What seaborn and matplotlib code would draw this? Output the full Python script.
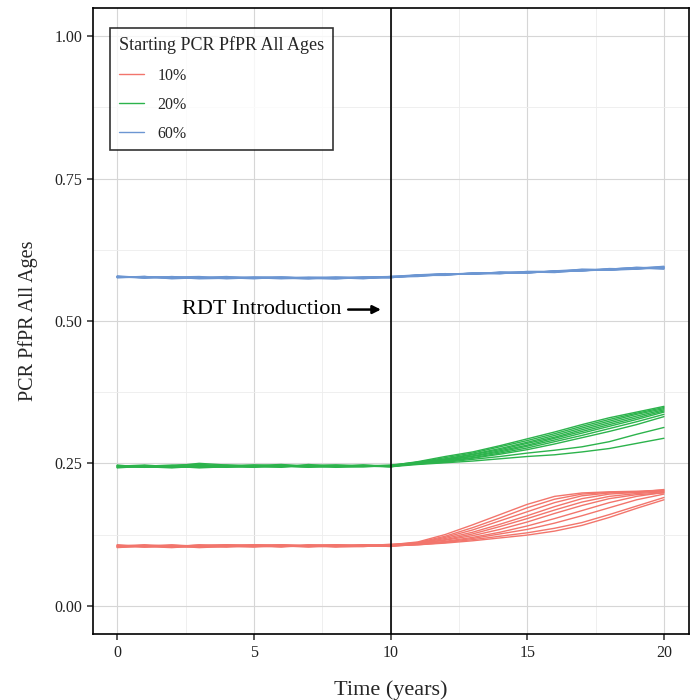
import matplotlib
matplotlib.use("Agg")
import matplotlib.pyplot as plt
from matplotlib.ticker import MultipleLocator
import seaborn as sns
import pandas as pd

# time points (years)
years = list(range(0, 21))

# starting PCR PfPR 10% - one list per simulation run
red_runs = [
    [0.104, 0.106, 0.103, 0.107, 0.105, 0.104, 0.106, 0.105, 0.107, 0.106, 0.107, 0.112, 0.125, 0.142, 0.160, 0.178, 0.192, 0.198, 0.200, 0.201, 0.203],
    [0.106, 0.104, 0.105, 0.106, 0.107, 0.105, 0.104, 0.106, 0.105, 0.107, 0.106, 0.111, 0.122, 0.137, 0.154, 0.172, 0.187, 0.196, 0.199, 0.200, 0.202],
    [0.103, 0.105, 0.107, 0.104, 0.106, 0.107, 0.105, 0.104, 0.106, 0.105, 0.108, 0.110, 0.120, 0.133, 0.149, 0.165, 0.181, 0.193, 0.198, 0.199, 0.204],
    [0.105, 0.107, 0.104, 0.105, 0.103, 0.106, 0.107, 0.105, 0.104, 0.106, 0.105, 0.110, 0.118, 0.129, 0.143, 0.158, 0.174, 0.188, 0.196, 0.199, 0.201],
    [0.107, 0.103, 0.106, 0.104, 0.105, 0.107, 0.106, 0.104, 0.105, 0.104, 0.106, 0.109, 0.116, 0.126, 0.139, 0.153, 0.168, 0.182, 0.192, 0.197, 0.200],
    [0.102, 0.105, 0.104, 0.106, 0.104, 0.103, 0.105, 0.107, 0.106, 0.105, 0.107, 0.109, 0.115, 0.123, 0.134, 0.147, 0.162, 0.176, 0.188, 0.195, 0.198],
    [0.105, 0.104, 0.102, 0.105, 0.107, 0.105, 0.103, 0.106, 0.104, 0.107, 0.105, 0.108, 0.113, 0.120, 0.129, 0.140, 0.153, 0.167, 0.181, 0.192, 0.199],
    [0.104, 0.103, 0.105, 0.103, 0.104, 0.106, 0.105, 0.103, 0.105, 0.106, 0.104, 0.108, 0.112, 0.118, 0.126, 0.134, 0.145, 0.158, 0.172, 0.186, 0.196],
    [0.106, 0.105, 0.103, 0.104, 0.106, 0.104, 0.107, 0.105, 0.103, 0.104, 0.106, 0.107, 0.111, 0.116, 0.122, 0.128, 0.136, 0.146, 0.160, 0.175, 0.190],
    [0.103, 0.106, 0.105, 0.102, 0.104, 0.105, 0.104, 0.106, 0.107, 0.105, 0.105, 0.107, 0.110, 0.114, 0.119, 0.124, 0.131, 0.141, 0.155, 0.171, 0.186],
]

# starting PCR PfPR 20%
green_runs = [
    [0.244, 0.246, 0.243, 0.247, 0.245, 0.244, 0.246, 0.245, 0.247, 0.246, 0.246, 0.253, 0.262, 0.270, 0.281, 0.293, 0.305, 0.318, 0.330, 0.340, 0.350],
    [0.246, 0.244, 0.245, 0.250, 0.247, 0.245, 0.244, 0.246, 0.245, 0.247, 0.245, 0.252, 0.260, 0.268, 0.279, 0.290, 0.302, 0.315, 0.327, 0.338, 0.348],
    [0.243, 0.245, 0.247, 0.248, 0.246, 0.247, 0.245, 0.244, 0.246, 0.245, 0.247, 0.252, 0.258, 0.266, 0.276, 0.287, 0.299, 0.312, 0.324, 0.336, 0.346],
    [0.245, 0.247, 0.244, 0.245, 0.243, 0.246, 0.248, 0.245, 0.244, 0.246, 0.244, 0.251, 0.257, 0.265, 0.274, 0.285, 0.296, 0.309, 0.321, 0.333, 0.344],
    [0.247, 0.243, 0.246, 0.244, 0.245, 0.247, 0.246, 0.244, 0.245, 0.244, 0.246, 0.251, 0.256, 0.263, 0.272, 0.282, 0.294, 0.306, 0.318, 0.330, 0.342],
    [0.242, 0.245, 0.244, 0.246, 0.244, 0.243, 0.245, 0.247, 0.246, 0.245, 0.245, 0.250, 0.255, 0.262, 0.270, 0.280, 0.291, 0.303, 0.315, 0.327, 0.340],
    [0.245, 0.244, 0.242, 0.245, 0.247, 0.245, 0.243, 0.248, 0.244, 0.247, 0.244, 0.250, 0.254, 0.260, 0.268, 0.277, 0.288, 0.299, 0.311, 0.323, 0.336],
    [0.244, 0.243, 0.245, 0.243, 0.244, 0.246, 0.245, 0.243, 0.245, 0.246, 0.245, 0.249, 0.253, 0.259, 0.266, 0.274, 0.284, 0.295, 0.306, 0.318, 0.332],
    [0.246, 0.245, 0.243, 0.244, 0.246, 0.244, 0.247, 0.245, 0.243, 0.244, 0.246, 0.249, 0.252, 0.257, 0.262, 0.268, 0.273, 0.279, 0.288, 0.301, 0.313],
    [0.243, 0.246, 0.245, 0.242, 0.244, 0.245, 0.244, 0.246, 0.247, 0.245, 0.244, 0.248, 0.251, 0.254, 0.258, 0.262, 0.265, 0.270, 0.276, 0.285, 0.294],
]

# starting PCR PfPR 60%
blue_runs = [
    [0.578, 0.577, 0.576, 0.575, 0.576, 0.575, 0.576, 0.575, 0.576, 0.576, 0.577, 0.580, 0.582, 0.583, 0.584, 0.585, 0.587, 0.589, 0.590, 0.592, 0.594],
    [0.577, 0.578, 0.575, 0.576, 0.577, 0.576, 0.574, 0.576, 0.575, 0.577, 0.578, 0.579, 0.581, 0.584, 0.583, 0.586, 0.586, 0.588, 0.591, 0.593, 0.592],
    [0.579, 0.576, 0.577, 0.574, 0.575, 0.577, 0.576, 0.574, 0.577, 0.575, 0.576, 0.581, 0.583, 0.582, 0.585, 0.584, 0.588, 0.590, 0.589, 0.591, 0.595],
    [0.576, 0.578, 0.576, 0.577, 0.574, 0.576, 0.577, 0.575, 0.574, 0.576, 0.577, 0.579, 0.582, 0.583, 0.585, 0.586, 0.585, 0.589, 0.591, 0.594, 0.593],
    [0.578, 0.575, 0.578, 0.575, 0.577, 0.575, 0.575, 0.577, 0.576, 0.574, 0.578, 0.580, 0.580, 0.584, 0.584, 0.585, 0.587, 0.588, 0.590, 0.592, 0.596],
    [0.577, 0.577, 0.575, 0.576, 0.576, 0.574, 0.577, 0.576, 0.575, 0.576, 0.576, 0.580, 0.583, 0.582, 0.586, 0.585, 0.586, 0.590, 0.590, 0.593, 0.591],
    [0.578, 0.576, 0.577, 0.578, 0.575, 0.576, 0.575, 0.574, 0.576, 0.577, 0.577, 0.578, 0.582, 0.584, 0.583, 0.587, 0.587, 0.588, 0.592, 0.591, 0.594],
    [0.576, 0.577, 0.576, 0.575, 0.576, 0.577, 0.576, 0.575, 0.575, 0.575, 0.578, 0.581, 0.581, 0.583, 0.585, 0.584, 0.588, 0.589, 0.589, 0.593, 0.595],
    [0.577, 0.578, 0.574, 0.576, 0.578, 0.575, 0.575, 0.576, 0.577, 0.576, 0.577, 0.579, 0.583, 0.582, 0.584, 0.586, 0.586, 0.591, 0.590, 0.592, 0.593],
    [0.578, 0.576, 0.577, 0.576, 0.575, 0.576, 0.577, 0.575, 0.574, 0.577, 0.576, 0.580, 0.581, 0.584, 0.585, 0.585, 0.587, 0.588, 0.591, 0.594, 0.592],
]

group_labels = ["10%", "20%", "60%"]
group_colors = ["#F2756C", "#2CB34C", "#6C96D2"]

rows = []
for label, runs in zip(group_labels, [red_runs, green_runs, blue_runs]):
    for i, run in enumerate(runs):
        for t, v in zip(years, run):
            rows.append({"time": t, "pfpr": v, "start": label, "run": f"{label}_{i}"})
df = pd.DataFrame(rows)

sns.set_theme(style="whitegrid")
plt.rcParams["font.family"] = ["Liberation Serif", "DejaVu Serif"]

fig = plt.figure(figsize=(7, 7), dpi=100)
ax = fig.add_axes([0.133, 0.094, 0.851, 0.895])

sns.lineplot(data=df, x="time", y="pfpr", hue="start", units="run", estimator=None,
             palette=dict(zip(group_labels, group_colors)), linewidth=1.0, ax=ax)

ax.set_xlim(-0.88, 20.91)
ax.set_ylim(-0.05, 1.05)
ax.xaxis.set_major_locator(MultipleLocator(5))
ax.xaxis.set_minor_locator(MultipleLocator(2.5))
ax.yaxis.set_major_locator(MultipleLocator(0.25))
ax.yaxis.set_minor_locator(MultipleLocator(0.125))
ax.yaxis.set_major_formatter(plt.FormatStrFormatter("%.2f"))
ax.grid(which="major", color="#D6D6D6", linewidth=0.8)
ax.grid(which="minor", color="#EDEDED", linewidth=0.6)
ax.set_axisbelow(True)
for s in ax.spines.values():
    s.set_color("black")
    s.set_linewidth(1.2)
ax.tick_params(axis="both", which="major", length=4, color="#444444", labelsize=11.5,
               labelcolor="#222222", bottom=True, left=True)

ax.axvline(10, color="black", linewidth=1.2)
ax.annotate("", xy=(9.75, 0.52), xytext=(8.35, 0.52),
            arrowprops=dict(arrowstyle="-|>", color="black", lw=1.8, mutation_scale=12))
ax.text(8.2, 0.52, "RDT Introduction", fontsize=16, ha="right", va="center", color="black")

ax.set_xlabel("Time (years)", fontsize=16, labelpad=14)
ax.set_ylabel("PCR PfPR All Ages", fontsize=14.5, labelpad=12)

leg = ax.legend(title="Starting PCR PfPR All Ages", loc="upper left",
                bbox_to_anchor=(0.0285, 0.968), borderaxespad=0, fontsize=11.5, title_fontsize=13,
                fancybox=False, frameon=True, borderpad=0.55, labelspacing=0.82,
                handlelength=1.6, handletextpad=0.8)
leg.get_frame().set_edgecolor("black")
leg.get_frame().set_linewidth(1.2)
leg._legend_box.align = "left"

fig.savefig("out.png", dpi=100)
